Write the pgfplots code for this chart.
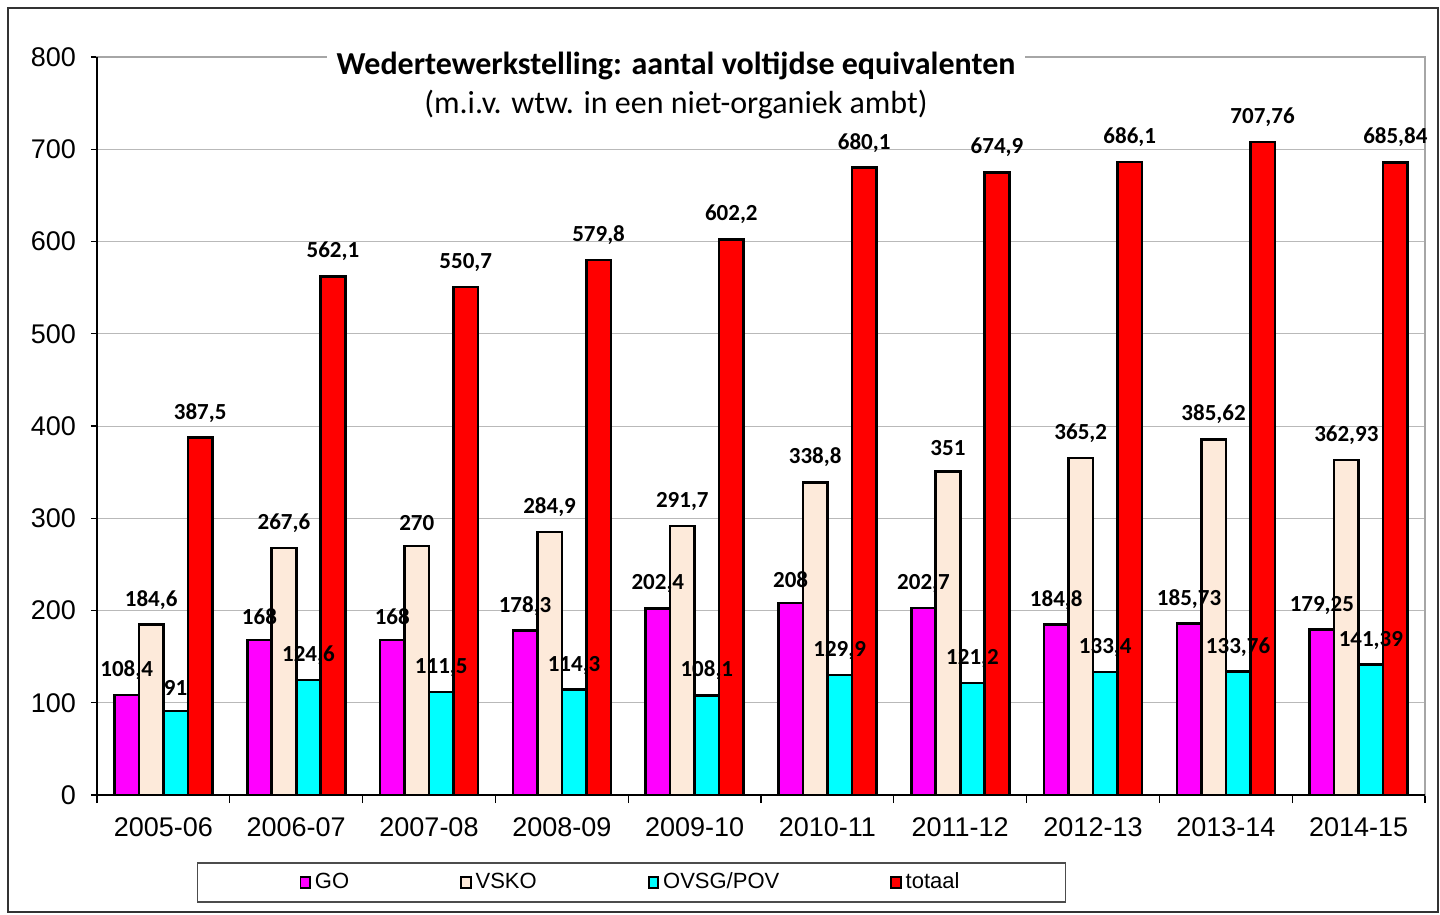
\documentclass[border=0pt]{standalone}
\usepackage{fontspec}
\setmainfont{Liberation Sans}
\newfontfamily\carlito{Carlito}
\usepackage{pgfplots}
\pgfplotsset{compat=1.18}
\definecolor{cGO}{RGB}{255,0,255}
\definecolor{cVS}{RGB}{253,234,218}
\definecolor{cOV}{RGB}{0,255,255}
\definecolor{cTO}{RGB}{255,0,0}
\pgfplotsset{
  sqlegend/.style={legend image code/.code={\draw[##1,draw=black,line width=0.9pt] (0pt,-2.8pt) rectangle (4.8pt,2.8pt);}},
  lbl/.style={draw=none, mark=none, forget plot,
    nodes near coords={\pgfmathprintnumber[use comma,fixed,precision=2,assume math mode=true]{\pgfplotspointmeta}},
    every node near coord/.append style={font=\carlito\bfseries\fontsize{11.5}{13}\selectfont, black, anchor=south, inner sep=0pt, yshift=7.5pt, xshift=#1}},
}
\begin{document}
\begin{tikzpicture}
\useasboundingbox (-48.5pt,-60pt) rectangle (671.5pt,397.5pt);
\draw[black!80, line width=0.6pt] (-44.5pt,-58.5pt) rectangle (670.5pt,393.5pt);
\begin{axis}[
  at={(0pt,0pt)}, anchor=south west,
  scale only axis, width=664pt, height=369pt,
  xmin=-0.5, xmax=9.5, ymin=0, ymax=800,
  ytick={0,100,...,800},
  xtick={0,...,9},
  xticklabels={2005-06,2006-07,2007-08,2008-09,2009-10,2010-11,2011-12,2012-13,2013-14,2014-15},
  minor xtick={-0.5,0.5,...,9.5},
  xtick pos=lower, ytick pos=left,
  tick align=outside,
  tick style={black, line width=0.6pt},
  major tick length=3pt, minor tick length=4pt,
  major x tick style={draw=none},
  ymajorgrids, grid style={gray!55, line width=0.5pt},
  axis line style={draw=gray!70, line width=1.2pt},
  ticklabel style={font=\fontsize{13.5}{16}\selectfont},
  /pgf/number format/assume math mode=true,
  yticklabel style={xshift=-4pt},
  xticklabel style={yshift=-5pt},
  legend columns=4,
  legend style={at={(0.3995,0)}, anchor=center, yshift=-43.75pt, xshift=2pt,
    draw=black!70, line width=0.6pt, font=\fontsize{11}{13}\selectfont,
    inner xsep=51pt, inner ysep=3pt,
    /tikz/every even column/.append style={column sep=53.5pt}},
]
\addplot[ybar, bar width=12.25pt, bar shift=-18.375pt, fill=cGO, draw=black, line width=1.3pt, sqlegend]
 coordinates {(0,108.4)(1,168)(2,168)(3,178.3)(4,202.4)(5,208)(6,202.7)(7,184.8)(8,185.73)(9,179.25)};
\addplot[ybar, bar width=12.25pt, bar shift=-6.125pt, fill=cVS, draw=black, line width=1.3pt, sqlegend]
 coordinates {(0,184.6)(1,267.6)(2,270)(3,284.9)(4,291.7)(5,338.8)(6,351)(7,365.2)(8,385.62)(9,362.93)};
\addplot[ybar, bar width=12.25pt, bar shift=6.125pt, fill=cOV, draw=black, line width=1.3pt, sqlegend]
 coordinates {(0,91)(1,124.6)(2,111.5)(3,114.3)(4,108.1)(5,129.9)(6,121.2)(7,133.4)(8,133.76)(9,141.39)};
\addplot[ybar, bar width=12.25pt, bar shift=18.375pt, fill=cTO, draw=black, line width=1.3pt, sqlegend]
 coordinates {(0,387.5)(1,562.1)(2,550.7)(3,579.8)(4,602.2)(5,680.1)(6,674.9)(7,686.1)(8,707.76)(9,685.84)};
\legend{GO,VSKO,OVSG/POV,totaal}
\addplot[lbl=-18.375pt]
 coordinates {(0,108.4)(1,168)(2,168)(3,178.3)(4,202.4)(5,208)(6,202.7)(7,184.8)(8,185.73)(9,179.25)};
\addplot[lbl=-6.125pt]
 coordinates {(0,184.6)(1,267.6)(2,270)(3,284.9)(4,291.7)(5,338.8)(6,351)(7,365.2)(8,385.62)(9,362.93)};
\addplot[lbl=6.125pt]
 coordinates {(0,91)(1,124.6)(2,111.5)(3,114.3)(4,108.1)(5,129.9)(6,121.2)(7,133.4)(8,133.76)(9,141.39)};
\addplot[lbl=18.375pt]
 coordinates {(0,387.5)(1,562.1)(2,550.7)(3,579.8)(4,602.2)(5,680.1)(6,674.9)(7,686.1)(8,707.76)(9,685.84)};
\end{axis}
\draw[black, line width=1pt] (0pt,369pt) -- (0pt,0pt) -- (664pt,0pt);
\node[fill=white, inner xsep=5pt, inner ysep=3pt, align=center, font=\carlito\fontsize{16}{19.5}\selectfont]
  at (289.5pt,354.75pt) {{\bfseries Wedertewerkstelling: aantal voltijdse equivalenten}\\(m.i.v. wtw. in een niet-organiek ambt)};
\end{tikzpicture}
\end{document}
